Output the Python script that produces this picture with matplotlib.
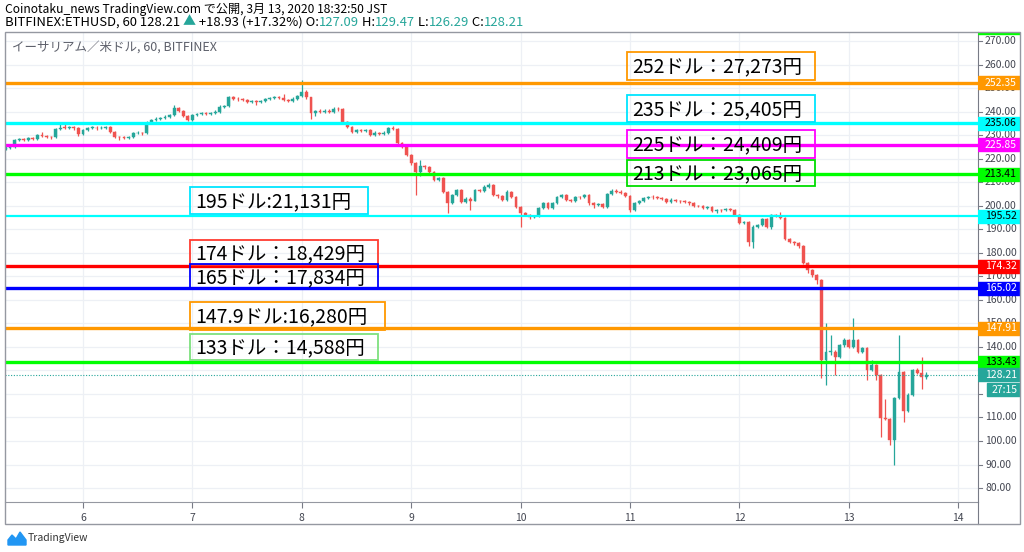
import numpy as np
import matplotlib
matplotlib.use('Agg')
import matplotlib.pyplot as plt
from matplotlib.patches import Rectangle, Polygon

plt.rcParams['font.family'] = ['Noto Sans CJK JP', 'DejaVu Sans']

W, H = 1024, 552

# ---------------- data ----------------
start_day = 5 + 7 / 24          # first hourly candle: 5th, 07:00
first_open = 224.0
closes = [
    224.5, 225.0, 227.8, 228.3, 228.0, 228.6, 228.4, 230.0, 229.6, 229.2, 229.0, 232.6,
    233.2, 233.0, 233.3, 232.9, 230.3, 232.0, 233.0, 233.2, 232.9, 233.2, 233.4, 231.5,
    229.3, 229.0, 228.8, 229.1, 230.8, 231.0, 230.7, 235.3, 236.4, 236.8, 237.2, 237.8,
    238.5, 241.5, 240.2, 238.0, 236.5, 238.5, 238.8, 239.2, 239.0, 239.3, 240.0, 242.0,
    242.3, 246.0, 245.4, 245.3, 245.0, 244.2, 244.5, 244.0, 244.3, 245.2, 245.8, 246.2,
    245.9, 245.0, 244.6, 245.5, 246.6, 248.3, 246.0, 239.5, 240.2, 240.0, 240.3, 240.0,
    241.3, 241.0, 235.5, 233.4, 231.4, 232.0, 231.8, 232.2, 230.0, 231.0, 230.6, 231.0,
    233.0, 232.5, 226.5, 225.0, 221.5, 218.0, 214.3, 216.8, 216.3, 214.3, 211.0, 211.8,
    206.0, 201.0, 204.5, 206.7, 201.6, 203.0, 202.2, 206.7, 206.2, 208.0, 208.8, 204.5,
    204.0, 202.4, 206.0, 203.7, 199.5, 197.0, 196.0, 195.2, 195.6, 199.0, 201.0, 199.0,
    201.0, 203.7, 204.5, 202.4, 202.0, 203.7, 203.5, 204.5, 201.0, 200.3, 200.6, 199.5,
    205.0, 206.3, 206.0, 205.5, 204.0, 198.0, 201.0, 202.0, 203.3, 203.7, 203.5, 203.2,
    203.0, 201.6, 202.6, 202.0, 201.8, 201.5, 201.0, 200.0, 199.8, 199.0, 199.3, 197.8,
    198.2, 198.0, 198.5, 198.2, 196.0, 192.6, 193.0, 184.6, 191.0, 191.8, 194.3, 191.0,
    196.0, 195.8, 194.8, 185.8, 184.6, 184.0, 182.8, 175.6, 172.7, 170.6, 168.4, 134.4,
    137.8, 138.0, 135.7, 140.8, 143.0, 140.0, 143.0, 137.8, 139.5, 130.2, 132.3, 128.0,
    109.8, 109.5, 100.5, 118.3, 129.3, 112.8, 119.6, 130.2, 128.8, 127.09, 128.21,
]
highs = [
    225.2, 225.6, 228.4, 228.9, 228.9, 229.2, 229.3, 230.6, 231.2, 230.1, 229.7, 233.2,
    234.6, 235.5, 234.0, 233.9, 233.3, 232.6, 233.6, 233.8, 233.8, 233.9, 234.0, 233.8,
    231.9, 229.8, 229.5, 229.7, 231.4, 231.6, 231.5, 235.9, 237.0, 237.5, 237.9, 238.4,
    239.1, 243.0, 242.0, 240.6, 238.4, 239.0, 239.4, 239.8, 239.8, 239.9, 240.6, 242.6,
    242.9, 246.6, 246.6, 246.4, 245.9, 245.5, 245.1, 245.0, 244.9, 245.8, 246.4, 246.8,
    246.8, 247.5, 245.5, 246.1, 247.2, 253.4, 249.0, 246.4, 240.8, 241.0, 240.9, 240.9,
    241.9, 241.9, 241.4, 235.9, 233.8, 232.6, 232.6, 232.8, 232.6, 231.6, 231.5, 231.6,
    233.6, 233.8, 232.9, 226.9, 225.4, 221.9, 218.4, 219.3, 217.5, 216.8, 214.7, 212.4,
    212.2, 206.4, 205.1, 207.3, 207.1, 203.6, 203.6, 207.3, 207.3, 208.6, 209.5, 209.2,
    205.0, 204.4, 206.6, 206.4, 204.1, 199.9, 197.4, 196.4, 196.2, 199.6, 201.6, 201.4,
    201.6, 204.3, 205.1, 205.0, 202.9, 204.3, 204.2, 205.1, 204.9, 201.4, 201.2, 201.0,
    205.6, 206.9, 207.2, 206.5, 205.9, 204.4, 201.6, 202.6, 203.9, 204.3, 204.6, 204.0,
    203.7, 203.4, 203.2, 203.0, 202.5, 202.3, 201.9, 201.4, 200.5, 200.2, 199.9, 199.7,
    198.8, 198.7, 199.1, 199.0, 198.6, 196.4, 193.6, 193.4, 191.6, 192.4, 194.9, 194.7,
    196.6, 196.5, 197.2, 195.2, 186.2, 185.0, 184.4, 183.2, 176.0, 173.1, 171.0, 168.8,
    150.2, 145.0, 138.5, 141.4, 143.8, 143.4, 152.3, 143.4, 140.1, 139.9, 134.5, 132.7,
    128.4, 118.0, 109.9, 118.8, 145.0, 129.7, 120.2, 130.8, 131.0, 135.5, 129.47,
]
lows = [
    223.6, 224.1, 224.7, 227.3, 227.5, 227.6, 227.9, 228.0, 229.0, 228.7, 228.4, 228.7,
    232.2, 232.5, 232.4, 232.3, 229.8, 229.9, 231.6, 232.5, 232.3, 232.4, 232.8, 231.0,
    228.8, 227.8, 228.2, 228.3, 228.7, 230.3, 230.2, 230.4, 234.9, 236.0, 236.3, 236.8,
    237.4, 238.2, 239.7, 237.5, 236.0, 236.1, 238.0, 238.4, 238.5, 238.6, 238.9, 239.6,
    241.5, 242.0, 244.9, 244.7, 244.4, 243.7, 243.5, 243.0, 243.5, 243.9, 244.8, 245.4,
    245.4, 244.5, 244.0, 244.2, 245.1, 246.2, 245.5, 237.0, 238.0, 239.4, 239.5, 239.4,
    239.6, 240.4, 235.0, 232.9, 230.9, 231.0, 231.2, 231.4, 229.5, 229.6, 230.0, 230.2,
    230.6, 232.0, 226.0, 224.5, 221.0, 217.5, 204.5, 212.5, 215.7, 213.8, 210.5, 210.6,
    205.5, 197.0, 200.6, 204.1, 201.1, 201.2, 198.0, 201.8, 205.7, 205.8, 207.6, 204.0,
    203.2, 201.9, 202.0, 203.2, 199.0, 191.0, 195.5, 194.5, 194.7, 195.2, 198.6, 198.5,
    198.6, 200.6, 203.3, 201.9, 201.5, 201.6, 203.0, 203.1, 200.5, 199.2, 199.9, 199.0,
    199.1, 204.6, 205.5, 205.0, 203.5, 197.5, 197.6, 200.6, 201.6, 202.9, 203.0, 202.7,
    202.5, 201.1, 201.2, 201.5, 201.3, 201.0, 200.5, 199.5, 199.3, 198.5, 198.6, 197.3,
    196.8, 197.5, 197.6, 197.7, 195.5, 192.1, 192.2, 183.0, 182.0, 190.6, 191.4, 190.5,
    190.0, 195.3, 194.3, 185.3, 184.1, 183.5, 182.0, 175.1, 171.5, 169.5, 166.8, 126.8,
    123.8, 136.5, 128.0, 135.2, 140.0, 139.5, 139.5, 137.3, 137.4, 126.0, 129.8, 126.0,
    101.7, 109.0, 98.3, 89.8, 117.8, 108.0, 112.3, 119.2, 128.3, 122.0, 126.29,
]

levels = [252.35, 235.06, 225.85, 213.41, 195.52, 174.32, 165.02, 147.91, 133.43]
level_colors = ['#ff9800', '#00ffff', '#ff00ff', '#00ff00', '#00ffff',
                '#ff0000', '#0000ff', '#ff9800', '#00ff00']
level_text_colors = ['white', 'black', 'white', 'black', 'black',
                     'white', 'white', 'white', 'black']
level_widths = [2.4, 2.4, 2.4, 2.4, 1.6, 2.4, 2.4, 2.4, 2.4]
last_price = 128.21
countdown = '27:15'

notes = ['252ドル：27,273円', '235ドル：25,405円', '225ドル：24,409円', '213ドル：23,065円',
         '195ドル:21,131円', '174ドル：18,429円', '165ドル：17,834円', '147.9ドル:16,280円',
         '133ドル：14,588円']
note_colors = ['#ff9800', '#00e5ff', '#ff00ff', '#00dd00', '#00e5ff',
               '#ff3b30', '#0000ff', '#ff9800', '#7ee07e']
# boxes in pixel coords: x0, y0, x1, y1
note_boxes = [(627, 52, 815, 80), (627, 95, 815, 122), (627, 130, 815, 158),
              (627, 160, 815, 186), (190, 187, 368, 214), (190, 240, 378, 265),
              (190, 264, 378, 289), (190, 302, 385, 330), (190, 334, 378, 360)]

price_ticks = list(range(80, 271, 10))
hidden_price_labels = [120, 130]       # fully covered by the last-price boxes
day_ticks = list(range(6, 15))

header1 = 'Coinotaku_news TradingView.com で公開, 3月 13, 2020 18:32:50 JST'
header2_parts = [('BITFINEX:ETHUSD, 60 128.21 ', 'black'), ('▲', '#26a69a'),
                 (' +18.93 (+17.32%) O:', 'black'), ('127.09', '#26a69a'),
                 (' H:', 'black'), ('129.47', '#26a69a'), (' L:', 'black'),
                 ('126.29', '#26a69a'), (' C:', 'black'), ('128.21', '#26a69a')]
pane_title = 'イーサリアム／米ドル, 60, BITFINEX'

UP, DOWN = '#26a69a', '#ef5350'

# ---------------- figure ----------------
fig = plt.figure(figsize=(W / 100, H / 100), dpi=100)

def fx(x):
    return x / W

def fy(y):
    return 1 - y / H

PL, PR, PT, PB = 5, 978, 32, 502       # plot area px
AR, AB = 1020, 524                     # outer frame
ymin = 270 - (PB - 41) / 2.353
ymax = 270 + (41 - PT) / 2.353
pxday = 109.4
xmin = 6 - (83 - PL) / pxday
xmax = 6 + (PR - 83) / pxday

ax = fig.add_axes([fx(PL), fy(PB), fx(PR - PL), (PB - PT) / H])
ax.set_xlim(xmin, xmax)
ax.set_ylim(ymin, ymax)
ax.set_xticks(day_ticks)
ax.set_xticklabels([str(d) for d in day_ticks])
ax.set_yticks(price_ticks)
ax.set_yticklabels([])
ax.tick_params(axis='y', length=0)
ax.tick_params(axis='x', length=4, width=0.8, color='#787b86', pad=4,
               labelsize=7.5, labelcolor='#434651')
ax.grid(True, color='#edf0f5', lw=0.9, zorder=0)
for s in ['top', 'left']:
    ax.spines[s].set_visible(False)
ax.spines['right'].set_color('#787b86')
ax.spines['bottom'].set_color('#9598a1')
ax.set_axisbelow(True)

# candles
c = np.array(closes)
o = np.array([first_open] + closes[:-1])
h = np.array(highs)
lo = np.array(lows)
t = start_day + np.arange(len(c)) / 24
cols = np.where(c >= o, UP, DOWN)
ax.vlines(t, lo, h, colors=cols, lw=0.9, zorder=3)
ax.bar(t, np.maximum(np.abs(c - o), 0.25), bottom=np.minimum(o, c), width=0.62 / 24,
       color=cols, edgecolor=cols, lw=0.3, zorder=4)

# horizontal levels
for v, col, lw in zip(levels, level_colors, level_widths):
    ax.axhline(v, color=col, lw=lw, zorder=5)
ax.axhline(last_price, color=UP, lw=0.8, ls=(0, (1, 1.5)), zorder=5)

# pane title
fig.text(fx(12), fy(47), pane_title, fontsize=9, color='#5d606b', va='center', ha='left')

# note boxes
for txt, col, (x0, y0, x1, y1) in zip(notes, note_colors, note_boxes):
    fig.patches.append(Rectangle((fx(x0), fy(y1)), fx(x1 - x0), (y1 - y0) / H,
                                 transform=fig.transFigure, fill=False,
                                 edgecolor=col, lw=1.3, zorder=6))
    fig.text(fx(x0 + 5), fy((y0 + y1) / 2 + 1), txt, fontsize=14, color='black',
             va='center', ha='left', zorder=7)

# price axis pane
pax = fig.add_axes([fx(PR), fy(PB), fx(AR - PR), (PB - PT) / H])
pax.set_xlim(0, AR - PR)
pax.set_ylim(ymin, ymax)
pax.axis('off')
for v in price_ticks:
    pax.plot([0, 4], [v, v], color='#787b86', lw=0.8, zorder=1)
    if v not in hidden_price_labels:
        pax.text(7, v, '%.2f' % v, fontsize=7.5, color='#434651', va='center',
                 ha='left', zorder=1)
bh = 13 / 2.353
for v, col, tc in zip(levels, level_colors, level_text_colors):
    pax.add_patch(Rectangle((0, v - bh / 2), AR - PR, bh, color=col, zorder=3))
    pax.text(7, v, '%.2f' % v, fontsize=7.5, color=tc, va='center', ha='left', zorder=4)
# partially visible label at the very top
pax.add_patch(Rectangle((0, 273.1), AR - PR, bh, color='#00ff00', zorder=3))
pax.add_patch(Rectangle((0, last_price - bh / 2), AR - PR, bh, color=UP, zorder=3))
pax.text(7, last_price, '%.2f' % last_price, fontsize=7.5, color='white', va='center',
         ha='left', zorder=4)
cd = last_price - 15 / 2.353
pax.add_patch(Rectangle((9, cd - bh / 2), AR - PR - 9, bh, color=UP, zorder=3))
pax.text(14, cd, countdown, fontsize=7.5, color='white', va='center', ha='left', zorder=4)

# outer frame
fig.patches.append(Rectangle((fx(PL), fy(AB)), fx(AR - PL), (AB - PT) / H,
                             transform=fig.transFigure, fill=False,
                             edgecolor='#9598a1', lw=1.0, zorder=10))
fig.add_artist(plt.Line2D([fx(PR), fx(PR)], [fy(AB), fy(PB)], color='#787b86', lw=0.8))

# header
fig.text(fx(5), fy(9), header1, fontsize=8.7, color='black', va='center', ha='left')
renderer = fig.canvas.get_renderer()
xp = 5
for s, col in header2_parts:
    tt = fig.text(fx(xp), fy(22), s, fontsize=9.4, color=col, va='center', ha='left')
    xp += tt.get_window_extent(renderer).width

# TradingView logo
logo = [(8, 545), (8, 540), (12, 535), (16, 539), (20, 532), (26, 540), (26, 545)]
fig.patches.append(Polygon([(fx(a), fy(b)) for a, b in logo], closed=True,
                           transform=fig.transFigure, color='#2196f3'))
fig.text(fx(28), fy(538), 'TradingView', fontsize=7.5, color='#333333', va='center', ha='left')

fig.savefig('out.png', dpi=100)
